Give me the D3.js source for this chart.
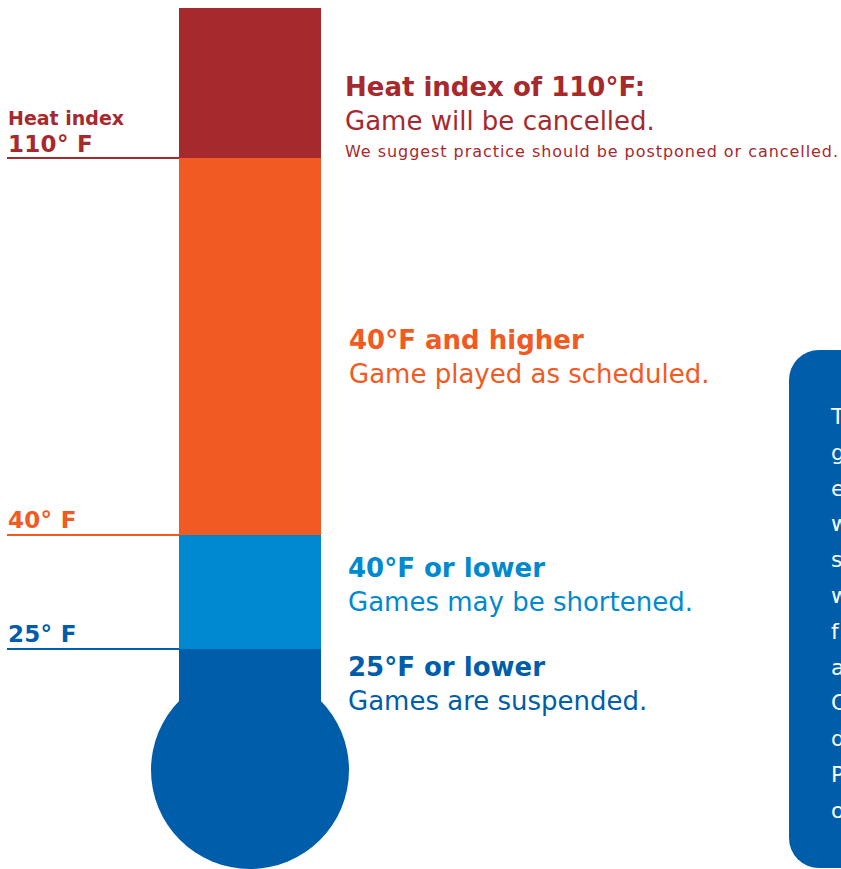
<!DOCTYPE html>
<html><head><meta charset="utf-8">
<script src="https://cdn.jsdelivr.net/npm/d3@7"></script>
<style>body{margin:0;background:#fff;overflow:hidden}svg{display:block}</style>
</head><body><svg id="c" width="841" height="869"></svg>
<script>
// Data
const thresholds = [110, 40, 25];            // °F marks on the thermometer
const thresholdLabels = [["Heat index", "110° F"], ["40° F"], ["25° F"]];
const segmentNames = ["heat", "high", "low", "suspend"];
const segmentBounds = [[125, 110], [110, 40], [40, 25], [25, 0]];
const segmentColors = ["#A6292E", "#F15A22", "#0089CF", "#005DAA"];
const headings = ["Heat index of 110°F:", "40°F and higher", "40°F or lower", "25°F or lower"];
const descriptions = ["Game will be cancelled.", "Game played as scheduled.", "Games may be shortened.", "Games are suspended."];
const notes = ["We suggest practice should be postponed or cancelled.", "", "", ""];
const sideLetters = ["T","g","e","w","s","w","f","a","C","d","P","o"];

const svg = d3.select("#c");
const font = "'DejaVu Sans', sans-serif";

// piecewise temperature scale for the thermometer column
const y = d3.scaleLinear().domain([125, 110, 40, 25, 0]).range([8, 158, 535, 649, 770]);
const x0 = 179, x1 = 321;
const bulbR = 99, bulbCx = 250, bulbCy = 770;

// segments
svg.selectAll("rect.seg").data(segmentBounds).join("rect")
  .attr("class", "seg")
  .attr("x", x0).attr("width", x1 - x0)
  .attr("y", d => y(d[0])).attr("height", d => y(d[1]) - y(d[0]))
  .attr("fill", (d, i) => segmentColors[i]);
svg.append("circle").attr("cx", bulbCx).attr("cy", bulbCy).attr("r", bulbR).attr("fill", segmentColors[3]);

// threshold lines & labels
const lineColors = [segmentColors[0], segmentColors[1], segmentColors[3]];
thresholds.forEach((t, i) => {
  svg.append("line").attr("x1", 7).attr("x2", x0).attr("y1", y(t)).attr("y2", y(t))
    .attr("stroke", lineColors[i]).attr("stroke-width", 2);
  const lab = thresholdLabels[i];
  const c = lineColors[i];
  if (lab.length === 2) {
    svg.append("text").attr("x", 8).attr("y", y(t) - 33).text(lab[0])
      .attr("font-family", font).attr("font-weight", "bold").attr("font-size", 19).attr("fill", c);
    svg.append("text").attr("x", 8).attr("y", y(t) - 6).text(lab[1])
      .attr("font-family", font).attr("font-weight", "bold").attr("font-size", 23).attr("letter-spacing", 0.3).attr("fill", c);
  } else {
    svg.append("text").attr("x", 8).attr("y", y(t) - 7).text(lab[0])
      .attr("font-family", font).attr("font-weight", "bold").attr("font-size", 23).attr("letter-spacing", 0.3).attr("fill", c);
  }
});

// right-hand text blocks
const headY = [96, 349, 577, 676];
const headX = [345, 349, 348, 348];
headings.forEach((h, i) => {
  const c = segmentColors[i];
  svg.append("text").attr("x", headX[i]).attr("y", headY[i]).text(h)
    .attr("font-family", font).attr("font-weight", "bold").attr("font-size", 26).attr("fill", c);
  svg.append("text").attr("x", headX[i]).attr("y", headY[i] + 34).text(descriptions[i])
    .attr("font-family", font).attr("font-size", 26).attr("fill", c);
  if (notes[i]) svg.append("text").attr("x", headX[i]).attr("y", headY[i] + 61).text(notes[i])
    .attr("font-family", font).attr("font-size", 16).attr("letter-spacing", 0.95).attr("fill", c);
});

// side box (continues past the right edge of the picture)
svg.append("rect").attr("x", 789).attr("y", 350).attr("width", 120).attr("height", 518)
  .attr("rx", 30).attr("fill", "#005DAA");
svg.selectAll("text.side").data(sideLetters).join("text").attr("class", "side")
  .attr("x", 831).attr("y", (d, i) => 424 + i * 35.8).text(d => d)
  .attr("font-family", font).attr("font-size", 22).attr("fill", "#fff");
</script></body></html>
